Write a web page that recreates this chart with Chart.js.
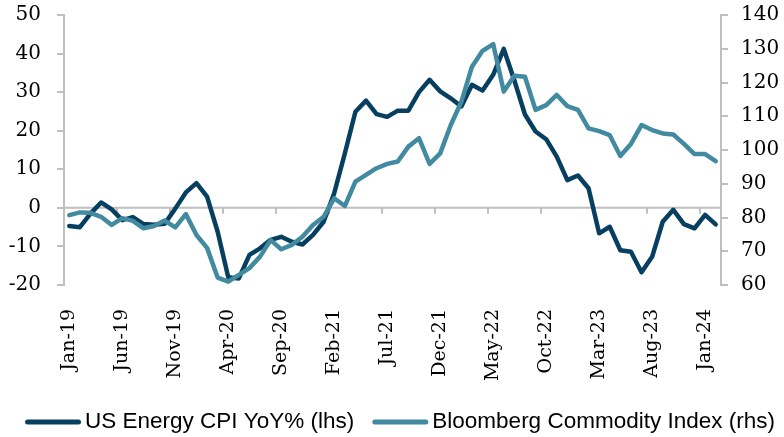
<!DOCTYPE html>
<html>
<head>
<meta charset="utf-8">
<script src="https://cdn.jsdelivr.net/npm/chart.js@4.4.1/dist/chart.umd.min.js"></script>
<style>
html,body{margin:0;padding:0;background:#fff;}
#wrap{width:784px;height:437px;position:relative;}
</style>
</head>
<body>
<div id="wrap"><canvas id="c"></canvas></div>
<script>
const months = [
  "Jan-19","Feb-19","Mar-19","Apr-19","May-19","Jun-19","Jul-19","Aug-19","Sep-19","Oct-19","Nov-19","Dec-19",
  "Jan-20","Feb-20","Mar-20","Apr-20","May-20","Jun-20","Jul-20","Aug-20","Sep-20","Oct-20","Nov-20","Dec-20",
  "Jan-21","Feb-21","Mar-21","Apr-21","May-21","Jun-21","Jul-21","Aug-21","Sep-21","Oct-21","Nov-21","Dec-21",
  "Jan-22","Feb-22","Mar-22","Apr-22","May-22","Jun-22","Jul-22","Aug-22","Sep-22","Oct-22","Nov-22","Dec-22",
  "Jan-23","Feb-23","Mar-23","Apr-23","May-23","Jun-23","Jul-23","Aug-23","Sep-23","Oct-23","Nov-23","Dec-23",
  "Jan-24","Feb-24"
];

const energyCpiYoY = [
  -4.7, -5.0, -1.5, 1.4, -0.4, -3.2, -2.4, -4.2, -4.4, -4.1, -0.2, 4.0,
  6.4, 2.9, -6.2, -18.0, -18.3, -12.2, -10.5, -8.3, -7.5, -8.8, -9.5, -7.0,
  -3.6, 3.8, 14.1, 24.9, 27.8, 24.3, 23.6, 25.2, 25.2, 30.0, 33.2, 30.2,
  28.4, 26.3, 31.9, 30.4, 34.5, 41.2, 33.0, 24.2, 19.8, 17.8, 13.3, 7.2,
  8.4, 5.1, -6.6, -4.9, -11.0, -11.4, -16.7, -12.7, -3.6, -0.5, -4.2, -5.3,
  -1.8, -4.3
];

const bloombergCommodity = [
  80.7, 81.5, 81.4, 80.2, 77.8, 79.8, 79.0, 76.8, 77.5, 79.1, 77.1, 81.0,
  74.8, 71.0, 62.2, 61.0, 63.0, 65.0, 68.4, 73.3, 70.6, 71.9, 74.3, 77.8,
  80.2, 85.7, 83.4, 90.6, 92.6, 94.6, 95.9, 96.6, 101.0, 103.5, 95.9, 99.0,
  107.4, 114.3, 124.7, 129.4, 131.4, 117.3, 122.0, 121.7, 111.9, 113.3, 116.3, 113.0,
  111.9, 106.4, 105.6, 104.4, 98.2, 101.8, 107.4, 105.9, 104.9, 104.6, 101.8, 98.8,
  98.8, 96.7
];

const seriesNames = ["US Energy CPI YoY% (lhs)", "Bloomberg Commodity Index (rhs)"];
const leftTicks = [-20, -10, 0, 10, 20, 30, 40, 50];
const rightTicks = [60, 70, 80, 90, 100, 110, 120, 130, 140];
const labelEvery = 5;

const DARK = '#063f5f';
const TEAL = '#428aa0';
const AXIS = '#bfbfbf';
const yFont = { family: '"DejaVu Serif", "Liberation Serif", serif', size: 20 };
const xFont = { family: '"DejaVu Serif", "Liberation Serif", serif', size: 19 };

const zeroAxisPlugin = {
  id: 'zeroAxis',
  beforeDatasetsDraw(chart) {
    const { ctx, chartArea: a, scales } = chart;
    const x = scales.x, y = scales.y;
    const y0 = y.getPixelForValue(0);
    const half = (x.getPixelForValue(1) - x.getPixelForValue(0)) / 2;
    ctx.save();
    ctx.strokeStyle = AXIS;
    ctx.lineWidth = 2;
    ctx.beginPath();
    ctx.moveTo(a.left, y0);
    ctx.lineTo(a.right, y0);
    for (let i = labelEvery; i < chart.data.labels.length; i += labelEvery) {
      const px = Math.round(x.getPixelForValue(i) - half);
      ctx.moveTo(px, y0);
      ctx.lineTo(px, y0 + 6);
    }
    ctx.stroke();
    ctx.restore();
  }
};

const legendPlugin = {
  id: 'lineLegend',
  afterDraw(chart) {
    const ctx = chart.ctx;
    ctx.save();
    ctx.font = '22.5px "Liberation Sans", Arial, sans-serif';
    const items = chart.data.datasets.map(d => ({ t: d.label, c: d.borderColor }));
    const sw = 56, gapText = 4, gapItem = 18;
    let total = 0;
    items.forEach((it, i) => {
      it.w = ctx.measureText(it.t).width;
      total += sw + gapText + it.w + (i ? gapItem : 0);
    });
    let x = 400 - total / 2;
    const y = 422;
    items.forEach(it => {
      ctx.strokeStyle = it.c;
      ctx.lineWidth = 5;
      ctx.lineCap = 'round';
      ctx.beginPath();
      ctx.moveTo(x + 2.5, y);
      ctx.lineTo(x + sw - 2.5, y);
      ctx.stroke();
      ctx.fillStyle = '#000';
      ctx.textBaseline = 'middle';
      ctx.textAlign = 'left';
      ctx.fillText(it.t, x + sw + gapText, y);
      x += sw + gapText + it.w + gapItem;
    });
    ctx.restore();
  }
};

function fitY(width) {
  return s => {
    s.width = width;
    s.paddingTop = 0;
    s.paddingBottom = 0;
  };
}

new Chart(document.getElementById('c'), {
  type: 'line',
  data: {
    labels: months,
    datasets: [
      {
        label: seriesNames[0],
        data: energyCpiYoY,
        yAxisID: 'y',
        borderColor: DARK,
        backgroundColor: DARK,
        borderWidth: 4.5,
        pointRadius: 0,
        tension: 0,
        borderJoinStyle: 'round',
        borderCapStyle: 'round',
        order: 1
      },
      {
        label: seriesNames[1],
        data: bloombergCommodity,
        yAxisID: 'y1',
        borderColor: TEAL,
        backgroundColor: TEAL,
        borderWidth: 4.5,
        pointRadius: 0,
        tension: 0,
        borderJoinStyle: 'round',
        borderCapStyle: 'round',
        order: 0
      }
    ]
  },
  options: {
    responsive: true,
    maintainAspectRatio: false,
    animation: false,
    layout: { padding: { top: 15, left: 0, right: 0, bottom: 0 } },
    plugins: {
      legend: { display: false },
      tooltip: { enabled: false }
    },
    scales: {
      x: {
        type: 'category',
        offset: true,
        grid: { display: false },
        border: { display: false },
        ticks: {
          autoSkip: false,
          maxRotation: 90,
          minRotation: 90,
          padding: 16,
          color: '#000',
          font: xFont,
          callback: function(v, i) { return i % labelEvery === 0 ? months[i] : null; }
        },
        afterFit: s => { s.height = 152; s.paddingLeft = 0; s.paddingRight = 0; }
      },
      y: {
        position: 'left',
        min: leftTicks[0],
        max: leftTicks[leftTicks.length - 1],
        afterBuildTicks: s => { s.ticks = leftTicks.map(v => ({ value: v })); },
        ticks: { padding: 16, color: '#000', font: yFont },
        grid: { drawOnChartArea: false, drawTicks: true, tickLength: 7, color: AXIS, lineWidth: 2 },
        border: { color: AXIS, width: 2 },
        afterFit: fitY(64)
      },
      y1: {
        position: 'right',
        min: rightTicks[0],
        max: rightTicks[rightTicks.length - 1],
        afterBuildTicks: s => { s.ticks = rightTicks.map(v => ({ value: v })); },
        ticks: { padding: 13, color: '#000', font: yFont },
        grid: { drawOnChartArea: false, drawTicks: true, tickLength: 7, color: AXIS, lineWidth: 2 },
        border: { color: AXIS, width: 2 },
        afterFit: fitY(63)
      }
    }
  },
  plugins: [zeroAxisPlugin, legendPlugin]
});
</script>
</body>
</html>
